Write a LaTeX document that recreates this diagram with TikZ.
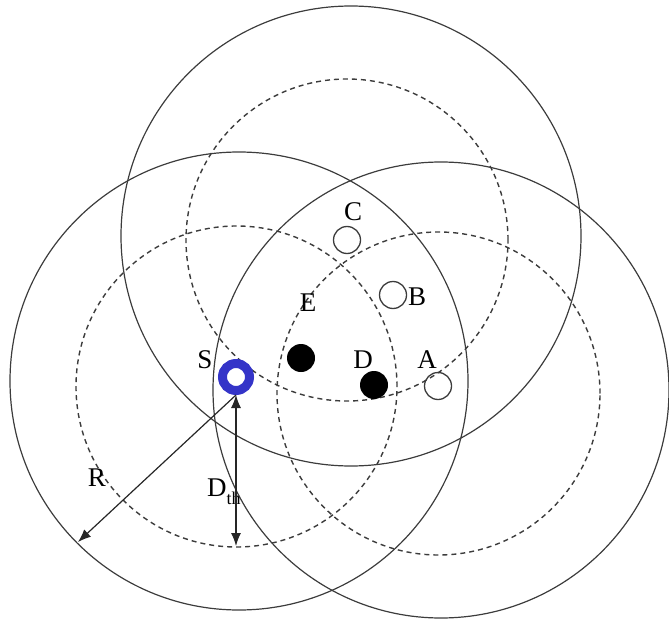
\documentclass[tikz,border=0pt]{standalone}
\usepackage{fontspec}
\setmainfont{Liberation Serif}
\usetikzlibrary{arrows.meta}
\definecolor{sblue}{RGB}{52,52,200}
\definecolor{ln}{RGB}{60,60,60}
\begin{document}
\begin{tikzpicture}[x=1pt,y=-1pt,
  rangecirc/.style={draw=ln, line width=1.2pt},
  threshcirc/.style={draw=ln, line width=1.4pt, dash pattern=on 5pt off 4pt},
  opennode/.style={circle, draw=ln, line width=1.3pt, minimum size=27pt, inner sep=0pt},
  fillnode/.style={circle, fill=black, minimum size=28pt, inner sep=0pt},
  lbl/.style={font=\fontsize{27}{27}\selectfont, inner sep=0pt},
  arr/.style={draw=black!85, line width=1.2pt},
  mytip/.tip={Latex[length=13pt,width=10pt]}]
\useasboundingbox (0,0) rectangle (669,623);
% range circles
\draw[rangecirc] (351,236) circle (230pt);
\draw[rangecirc] (239,381) circle (229pt);
\draw[rangecirc] (441,390) circle (228pt);
% threshold circles
\draw[threshcirc] (347,240) circle (161pt);
\draw[threshcirc] (236.5,386.5) circle (160.5pt);
\draw[threshcirc] (438.5,393.5) circle (161.5pt);
% nodes
\node[circle, draw=sblue, line width=9pt, minimum size=27pt, inner sep=0pt] (S) at (236,377) {};
\node[opennode] (C) at (347,240) {};
\node[opennode] (B) at (393,295) {};
\node[opennode] (A) at (438,386) {};
\node[fillnode] (E) at (301,358) {};
\node[fillnode] (D) at (374,385) {};
% labels
\node[lbl] (Slbl) at (205,360) {S};
\node[lbl] (Clbl) at (353,212) {C};
\node[lbl] (Blbl) at (417,297) {B};
\node[lbl] (Elbl) at (308,303) {E};
\node[lbl] (Dlbl) at (363,360) {D};
\node[lbl] (Albl) at (427,360) {A};
\node[lbl] (Rlbl) at (97,478) {R};
\node[lbl, anchor=base west] (Dth) at (207,496) {D\raisebox{-8pt}{\fontsize{18}{18}\selectfont th}};
% arrows
\coordinate (rend) at (78,542);
\coordinate (dend) at (236,546);
\draw[arr, -mytip] (S.south) -- (rend);
\draw[arr, mytip-mytip] (S.south) -- (dend);
\end{tikzpicture}
\end{document}
